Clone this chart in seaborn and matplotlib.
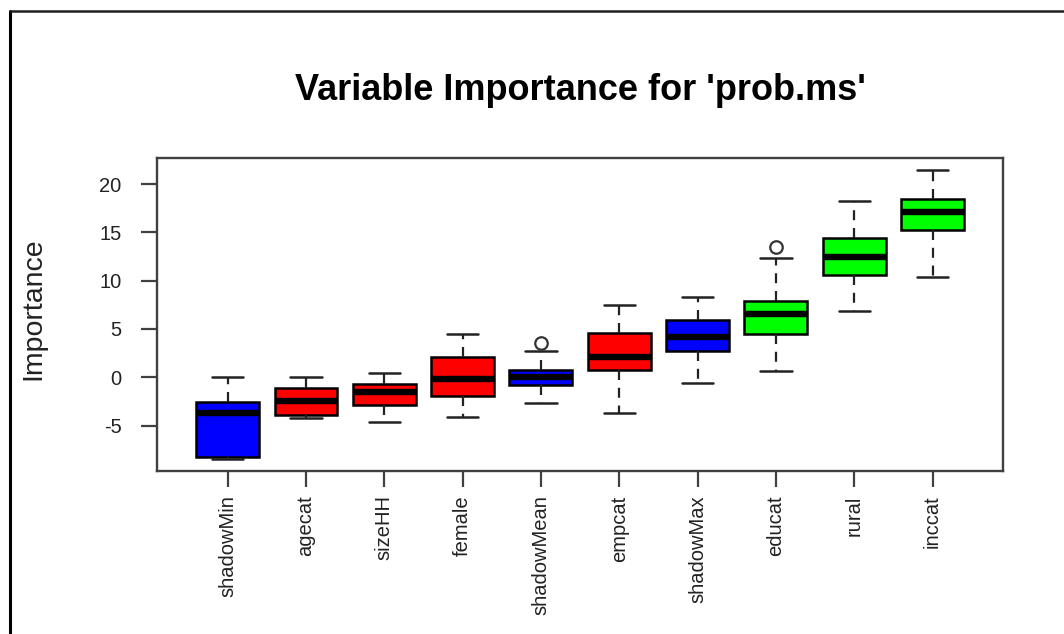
import numpy as np
import pandas as pd
import matplotlib
matplotlib.use("Agg")
import matplotlib.pyplot as plt
import seaborn as sns
from matplotlib.lines import Line2D

# Boruta importance summaries per attribute (ordered by median importance)
variables = ["shadowMin", "agecat", "sizeHH", "female", "shadowMean",
             "empcat", "shadowMax", "educat", "rural", "inccat"]
decision = ["Shadow", "Rejected", "Rejected", "Rejected", "Shadow",
            "Rejected", "Shadow", "Confirmed", "Confirmed", "Confirmed"]
whisker_low = [-8.5, -4.25, -4.6, -4.15, -2.7, -3.65, -0.55, 0.6, 6.9, 10.4]
q1 = [-8.2, -3.9, -2.9, -1.9, -0.8, 0.75, 2.7, 4.45, 10.55, 15.2]
medians = [-3.7, -2.5, -1.55, -0.2, 0.0, 2.15, 4.2, 6.55, 12.5, 17.15]
q3 = [-2.6, -1.1, -0.7, 2.15, 0.75, 4.6, 5.95, 7.85, 14.4, 18.45]
whisker_high = [0.0, 0.0, 0.4, 4.45, 2.7, 7.5, 8.3, 12.3, 18.25, 21.5]
outliers = [None, None, None, None, 3.5, None, None, 13.5, None, None]

decision_colors = {"Shadow": "#0000FF", "Rejected": "#FF0000",
                   "Confirmed": "#00FF00"}

# Long-format table whose quartiles / whisker ends reproduce each summary
rows = []
for i, var in enumerate(variables):
    top = [whisker_high[i], whisker_high[i]] if outliers[i] is None \
        else [whisker_high[i], outliers[i]]
    vals = [whisker_low[i], q1[i], q1[i], medians[i], medians[i],
            q3[i], q3[i]] + top
    rows += [(var, v) for v in vals]
df = pd.DataFrame(rows, columns=["variable", "importance"])

sns.set_style("white")
plt.rcParams["font.family"] = ["Liberation Sans", "DejaVu Sans"]
plt.rcParams["axes.unicode_minus"] = False

W, H = 1064, 634
fig = plt.figure(figsize=(W / 100, H / 100), dpi=100)
ax = fig.add_axes([157 / W, 1 - 471 / H, (1003 - 157) / W, (471 - 158) / H])

palette = [decision_colors[d] for d in decision]
sns.boxplot(
    data=df, x="variable", y="importance", hue="variable",
    order=variables, hue_order=variables, palette=palette, legend=False,
    width=0.8, whis=1.5, linecolor="black", linewidth=1.8, fliersize=9,
    saturation=1,
    medianprops=dict(color="black", linewidth=4.6),
    whiskerprops=dict(linestyle=(0, (4.5, 3.5)), color="#222222",
                      linewidth=1.6),
    capprops=dict(color="#222222", linewidth=1.8),
    flierprops=dict(marker="o", markerfacecolor="none",
                    markeredgecolor="#333333", markeredgewidth=1.6),
    ax=ax,
)

ax.set_xlim(-0.9, 9.9)
ax.set_ylim(-9.7, 22.7)
ax.set_yticks([-5, 0, 5, 10, 15, 20])
ax.set_xlabel("")
ax.set_ylabel("")
ax.set_xticks(range(len(variables)))
ax.set_xticklabels(variables, rotation=90)

for sp in ax.spines.values():
    sp.set_visible(True)
    sp.set_color("#404040")
    sp.set_linewidth(1.7)

ax.tick_params(axis="y", length=11.5, width=1.6, pad=14, labelsize=14.5,
               color="#404040", labelcolor="#222222", left=True)
ax.tick_params(axis="x", length=11.5, width=1.6, pad=6, labelsize=14.5,
               color="#404040", labelcolor="#222222", bottom=True)

fig.text(580 / W, 1 - 100 / H, "Variable Importance for 'prob.ms'",
         ha="center", va="baseline", fontsize=26, fontweight="bold",
         color="black")
fig.text(33 / W, 1 - 309 / H, "Importance", rotation=90, ha="center",
         va="center", fontsize=20.5, color="#222222")

# outer frame (left and top edges)
fig.add_artist(Line2D([10 / W, 10 / W], [0, 1 - 11 / H], color="black",
                      linewidth=2.2, transform=fig.transFigure))
fig.add_artist(Line2D([10 / W, 1], [1 - 11 / H, 1 - 11 / H], color="#202020",
                      linewidth=1.8, transform=fig.transFigure))

fig.savefig("out.png", dpi=100)
